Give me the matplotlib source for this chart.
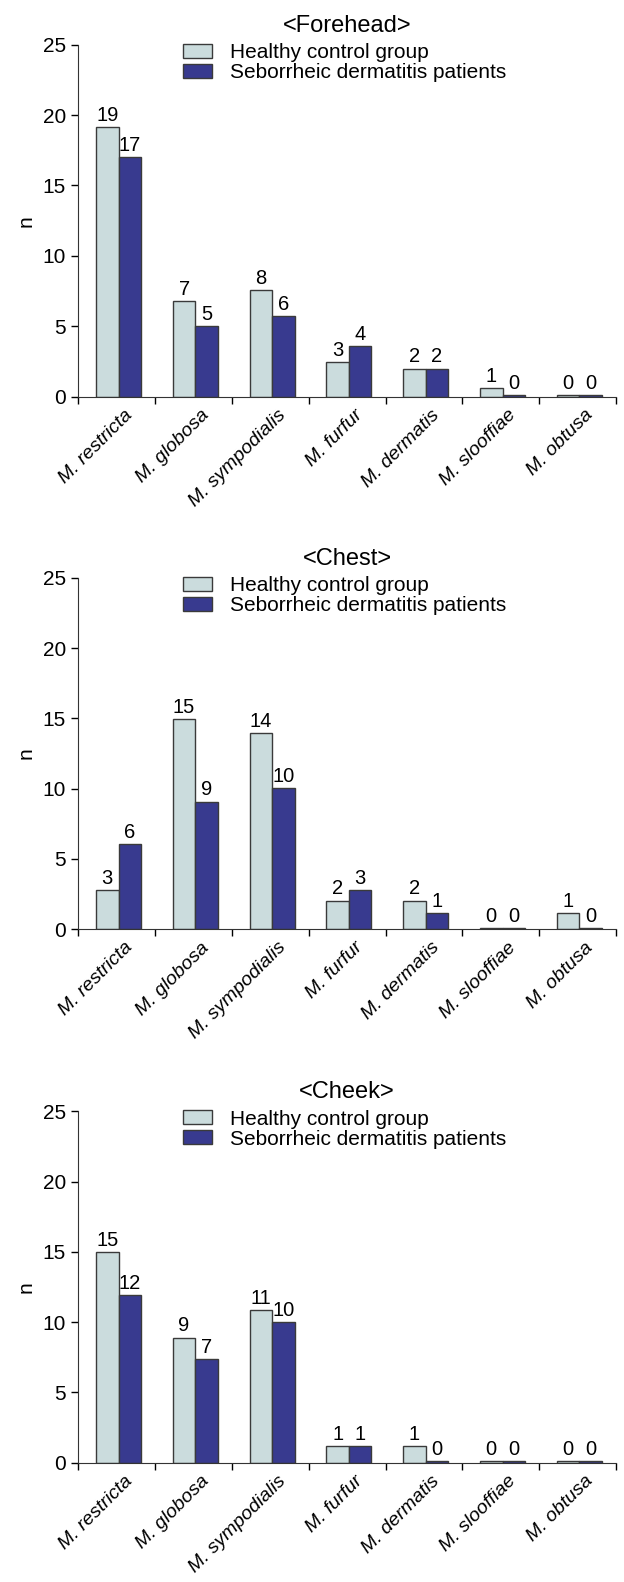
import numpy as np
import matplotlib
matplotlib.use("Agg")
from matplotlib import pyplot as plt
from matplotlib.transforms import ScaledTranslation

plt.rcParams['font.family'] = ['Liberation Sans', 'DejaVu Sans']

species = ["M. restricta", "M. globosa", "M. sympodialis", "M. furfur",
           "M. dermatis", "M. slooffiae", "M. obtusa"]
titles = ["<Forehead>", "<Chest>", "<Cheek>"]

# bar heights as drawn in the figure
healthy_h = [[19.15, 6.8, 7.55, 2.45, 2.0, 0.64, 0.1],
             [2.8, 14.98, 13.93, 2.04, 2.04, 0.1, 1.18],
             [14.97, 8.9, 10.86, 1.19, 1.19, 0.1, 0.1]]
patient_h = [[17.0, 5.02, 5.7, 3.62, 2.0, 0.1, 0.1],
             [6.07, 9.08, 10.02, 2.8, 1.18, 0.1, 0.1],
             [11.95, 7.35, 9.99, 1.19, 0.1, 0.1, 0.1]]
# value labels printed above bars
healthy_lbl = [[19, 7, 8, 3, 2, 1, 0],
               [3, 15, 14, 2, 2, 0, 1],
               [15, 9, 11, 1, 1, 0, 0]]
patient_lbl = [[17, 5, 6, 4, 2, 0, 0],
               [6, 9, 10, 3, 1, 0, 0],
               [12, 7, 10, 1, 0, 0, 0]]

light = "#cbdcdd"
dark = "#383a8f"
edge = "#3a3a3a"

W, H = 624, 1582
fig = plt.figure(figsize=(W / 100, H / 100), dpi=100)

# axes pixel boxes: left, top(25), right, bottom(0)
boxes = [(78.4, 44.7, 616, 396.7),
         (78.4, 577.7, 616, 929.3),
         (78.4, 1111.3, 616, 1462.7)]

x = np.arange(len(species))
bw = 0.293

for k in range(3):
    l, t, r, b = boxes[k]
    ax = fig.add_axes([l / W, 1 - b / H, (r - l) / W, (b - t) / H])
    ax.bar(x - 0.124, healthy_h[k], bw, color=light, edgecolor=edge,
           linewidth=1.0, label="Healthy control group")
    ax.bar(x + 0.169, patient_h[k], bw, color=dark, edgecolor=edge,
           linewidth=1.0, label="Seborrheic dermatitis patients")
    for i in range(len(species)):
        ax.text(x[i] - 0.124, healthy_h[k][i] + 0.15, str(healthy_lbl[k][i]),
                ha='center', va='bottom', fontsize=14.5)
        ax.text(x[i] + 0.169, patient_h[k][i] + 0.15, str(patient_lbl[k][i]),
                ha='center', va='bottom', fontsize=14.5)

    ax.set_xlim(-0.5, 6.5)
    ax.set_ylim(0, 25)
    ax.set_yticks([0, 5, 10, 15, 20, 25])
    ax.tick_params(axis='y', labelsize=15, length=5, width=1, direction='out', pad=4)
    ax.set_xticks(x)
    ax.set_xticklabels(species, rotation=45, ha='right', va='top',
                       rotation_mode='anchor', fontsize=14, style='italic')
    ax.tick_params(axis='x', which='major', length=0, pad=7)
    for lab in ax.get_xticklabels():
        lab.set_transform(lab.get_transform() +
                          ScaledTranslation(7 / 100, 0, fig.dpi_scale_trans))
    ax.set_xticks(np.arange(-0.5, 7.0, 1.0), minor=True)
    ax.tick_params(axis='x', which='minor', length=5, width=1, direction='out')
    for s in ['top', 'right']:
        ax.spines[s].set_visible(False)
    ax.spines['left'].set_color('#333333')
    ax.spines['bottom'].set_color('#333333')
    ax.set_ylabel("n", fontsize=15, labelpad=5)
    ax.set_title(titles[k], fontsize=17, pad=9.5)
    ax.legend(loc='upper left', bbox_to_anchor=(0.195, 1.005), frameon=False,
              fontsize=15, handlelength=1.36, handleheight=0.65,
              handletextpad=0.88, labelspacing=0.05, borderpad=0, borderaxespad=0)

fig.savefig("out.png", dpi=100)
